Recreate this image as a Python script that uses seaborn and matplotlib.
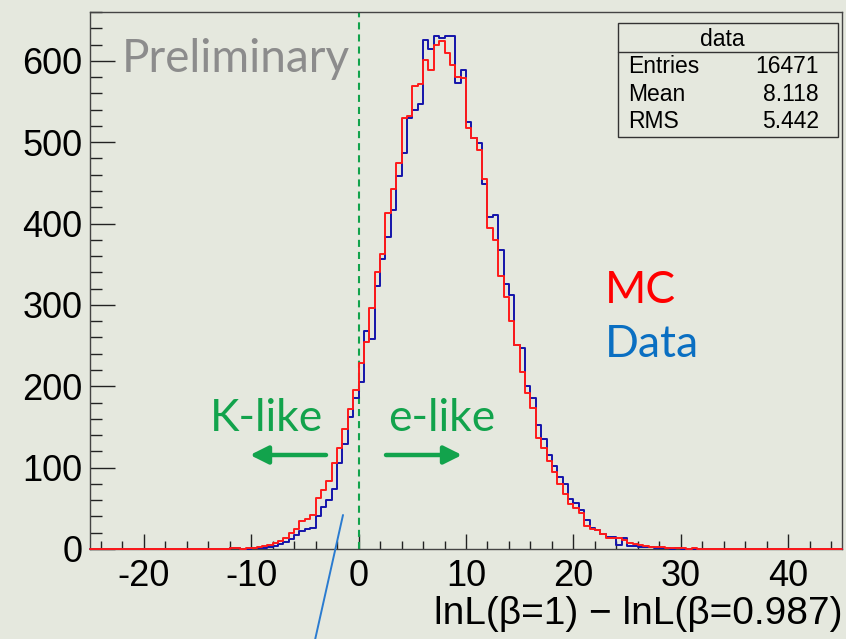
import numpy as np
import pandas as pd
import matplotlib
matplotlib.use("Agg")
import matplotlib.pyplot as plt
import seaborn as sns
from matplotlib.lines import Line2D
from matplotlib.patches import Rectangle
from matplotlib.ticker import MultipleLocator

# ---------------- data ----------------
bin_width = 0.5
bin_start = np.arange(-12.0, 31.01, bin_width)   # left edges of the filled bins

mc_counts = [1, 1, 0, 1, 1, 2, 4, 5, 7, 10, 13, 20, 24, 35, 37, 42, 63, 72, 84, 106,
             124, 147, 172, 196, 229, 254, 296, 341, 363, 413, 442, 474, 530, 532, 569, 572,
             601, 589, 620, 624, 609, 595, 580, 579, 517, 505, 490, 455, 395, 380, 335, 310,
             280, 251, 218, 192, 173, 136, 124, 108, 95, 80, 67, 55, 51, 44, 28, 25, 23, 18,
             14, 14, 13, 11, 7, 6, 5, 4, 3, 2, 2, 1, 1, 1, 1, 0, 1]

data_counts = [1, 1, 0, 0, 1, 1, 1, 2, 4, 6, 9, 12, 17, 22, 24, 26, 40, 52, 60, 74,
               106, 129, 162, 186, 205, 268, 258, 323, 356, 384, 417, 458, 487, 530, 540, 547,
               626, 615, 630, 628, 630, 630, 573, 589, 525, 505, 499, 448, 408, 410, 367, 326,
               312, 251, 247, 200, 186, 153, 135, 115, 102, 88, 80, 62, 56, 48, 36, 26, 23, 18,
               15, 15, 5, 13, 4, 4, 3, 3, 2, 1, 1, 1, 0, 1, 0, 0, 0]

stats_title = "data"
stats_labels = ["Entries", "Mean", "RMS"]
stats_values = ["16471", "8.118", "5.442"]

x_label = "lnL(\u03b2=1) \u2212 lnL(\u03b2=0.987)"
x_range = (-25, 45)
y_range = (0, 660)

# ---------------- styling ----------------
W, H = 846, 639
bg = "#e5e8de"
red = "#ff1a1a"
navy = "#1414aa"
green = "#12a34c"
office_blue = "#0a6fc2"

sns.set_theme(style="ticks")
plt.rcParams["font.family"] = ["Liberation Sans", "DejaVu Sans"]
plt.rcParams["axes.unicode_minus"] = False
plt.rcParams["text.color"] = "black"
plt.rcParams["xtick.labelcolor"] = "black"
plt.rcParams["ytick.labelcolor"] = "black"

fig = plt.figure(figsize=(W / 100, H / 100), dpi=100)
fig.patch.set_facecolor(bg)


def fx(px):
    return px / W


def fy(py):
    return 1 - py / H


ax = fig.add_axes([fx(90), fy(549), (842 - 90) / W, (549 - 12) / H])
ax.set_facecolor(bg)

df = pd.DataFrame({
    "x": bin_start + bin_width / 2,
    "MC": mc_counts,
    "Data": data_counts,
})
edges = [float(e) for e in np.arange(x_range[0], x_range[1] + 0.001, bin_width)]

sns.histplot(data=df, x="x", weights="Data", bins=edges, element="step", fill=False,
             color=navy, linewidth=1.4, ax=ax)
sns.histplot(data=df, x="x", weights="MC", bins=edges, element="step", fill=False,
             color=red, linewidth=1.4, ax=ax)
for ln in ax.lines:
    ln.set_clip_on(False)
    ln.set_zorder(3)

ax.set_xlim(*x_range)
ax.set_ylim(*y_range)
ax.axvline(0, color=green, lw=1.5, ls=(0, (3.4, 2.4)), zorder=2)

ax.xaxis.set_major_locator(MultipleLocator(10))
ax.xaxis.set_minor_locator(MultipleLocator(2))
ax.yaxis.set_major_locator(MultipleLocator(100))
ax.yaxis.set_minor_locator(MultipleLocator(20))
ax.tick_params(which="both", direction="in", top=False, right=False, color="#222222",
               labelcolor="black")
ax.tick_params(axis="x", which="major", length=10.8, width=1.0, labelsize=26, pad=7)
ax.tick_params(axis="x", which="minor", length=5.8, width=1.0)
ax.tick_params(axis="y", which="major", length=18, width=1.0, labelsize=26, pad=5.5)
ax.tick_params(axis="y", which="minor", length=8.6, width=1.0)
for s in ax.spines.values():
    s.set_visible(True)
    s.set_color("#444444")
    s.set_linewidth(1.0)

ax.set_ylabel("")
ax.set_xlabel(x_label, fontsize=28, ha="right", va="top", color="black")
ax.xaxis.set_label_coords(1.0, -(596 - 549) / (549 - 12))

# stats box
box = Rectangle((fx(618), fy(137)), (838 - 618) / W, (137 - 23) / H, transform=fig.transFigure,
                facecolor=bg, edgecolor="#333333", lw=1.0, zorder=5)
fig.add_artist(box)
fig.add_artist(Line2D([fx(618), fx(838)], [fy(51.5), fy(51.5)], transform=fig.transFigure,
                      color="#333333", lw=1.0, zorder=6))
fig.text(fx(722), fy(45.5), stats_title, ha="center", va="baseline", fontsize=16.5, zorder=7)
for i, (lab, val) in enumerate(zip(stats_labels, stats_values)):
    yb = 73 + i * 27.7
    fig.text(fx(628), fy(yb), lab, ha="left", va="baseline", fontsize=16.5, zorder=7)
    fig.text(fx(819), fy(yb), val, ha="right", va="baseline", fontsize=16.5, zorder=7)

# slide annotations
fig.text(fx(122), fy(72), "Preliminary", ha="left", va="baseline", fontsize=33,
         color="#8c8c8c", family=["Lato", "DejaVu Sans"])
fig.text(fx(605), fy(303), "MC", ha="left", va="baseline", fontsize=32,
         color="#ff0000", family=["Lato", "DejaVu Sans"])
fig.text(fx(605), fy(357), "Data", ha="left", va="baseline", fontsize=32,
         color=office_blue, family=["Lato", "DejaVu Sans"])
fig.text(fx(210), fy(431), "K-like", ha="left", va="baseline", fontsize=32,
         color=green, family=["Lato", "DejaVu Sans"])
fig.text(fx(388), fy(431), "e-like", ha="left", va="baseline", fontsize=32,
         color=green, family=["Lato", "DejaVu Sans"])

arrow_kw = dict(arrowstyle="-|>,head_length=0.9,head_width=0.45", color=green, lw=3.2,
                shrinkA=0, shrinkB=0)
ax.annotate("", xy=(250, H - 455), xytext=(326, H - 455), xycoords="figure pixels",
            textcoords="figure pixels", arrowprops=arrow_kw)
ax.annotate("", xy=(462, H - 455), xytext=(386, H - 455), xycoords="figure pixels",
            textcoords="figure pixels", arrowprops=arrow_kw)

fig.add_artist(Line2D([fx(343), fx(315)], [fy(515), fy(640)], transform=fig.transFigure,
                      color="#2a7bd0", lw=1.4, zorder=8))

fig.savefig("out.png", dpi=100, facecolor=bg)
